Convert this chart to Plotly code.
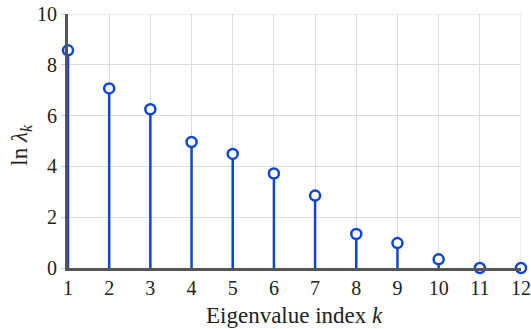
import plotly.graph_objects as go

k_index = [1, 2, 3, 4, 5, 6, 7, 8, 9, 10, 11, 12]
ln_lambda = [8.57, 7.07, 6.25, 4.96, 4.49, 3.72, 2.85, 1.34, 0.98, 0.34, 0.0, 0.0]
y_ticks = [0, 2, 4, 6, 8, 10]

BLUE = "#0f45d6"
FONT = "Liberation Serif"

stem_x, stem_y = [], []
for k, v in zip(k_index, ln_lambda):
    stem_x += [k, k, None]
    stem_y += [0, v, None]

fig = go.Figure()
fig.add_trace(go.Scatter(x=stem_x, y=stem_y, mode="lines",
                         line=dict(color=BLUE, width=2.5), hoverinfo="skip",
                         cliponaxis=False))
fig.add_trace(go.Scatter(x=k_index, y=ln_lambda, mode="markers",
                         marker=dict(symbol="circle", size=10, color="white",
                                     line=dict(color=BLUE, width=2.5)),
                         cliponaxis=False))

fig.update_layout(
    width=531, height=329,
    margin=dict(l=68, r=10, t=14, b=61, autoexpand=False),
    paper_bgcolor="white", plot_bgcolor="white",
    showlegend=False,
    font=dict(family=FONT, size=20, color="#222"),
    xaxis=dict(range=[1, 12], tickvals=k_index, showgrid=True, gridcolor="#dcdcdc",
               gridwidth=1, zeroline=False, showline=True, linecolor="#555",
               linewidth=3, ticks="", tickfont=dict(size=20), automargin=False),
    yaxis=dict(range=[0, 10], tickvals=y_ticks, showgrid=True, gridcolor="#dcdcdc",
               gridwidth=1, zeroline=False, showline=True, linecolor="#555",
               linewidth=3, ticks="outside", ticklen=4, tickcolor="#cccccc",
               tickfont=dict(size=20), automargin=False),
    annotations=[
        dict(text="Eigenvalue index <i>k</i>", xref="paper", yref="paper",
             x=0.5, y=-0.128, xanchor="center", yanchor="top", showarrow=False,
             font=dict(size=23, family=FONT, color="#222")),
        dict(text="ln <i>λ</i><sub><i>k</i></sub>", xref="paper", yref="paper",
             x=-0.104, y=0.485, xanchor="center", yanchor="middle", showarrow=False,
             textangle=-90, font=dict(size=23, family=FONT, color="#222")),
    ],
)
# top/right border gridlines
fig.add_shape(type="line", xref="x", yref="y", x0=1, x1=12, y0=10, y1=10,
              line=dict(color="#dcdcdc", width=1), layer="below")
fig.add_shape(type="line", xref="x", yref="y", x0=12, x1=12, y0=0, y1=10,
              line=dict(color="#dcdcdc", width=1), layer="below")

fig.write_html("out.html", config={"displayModeBar": False},
               post_script="document.body.style.margin='0px';")
